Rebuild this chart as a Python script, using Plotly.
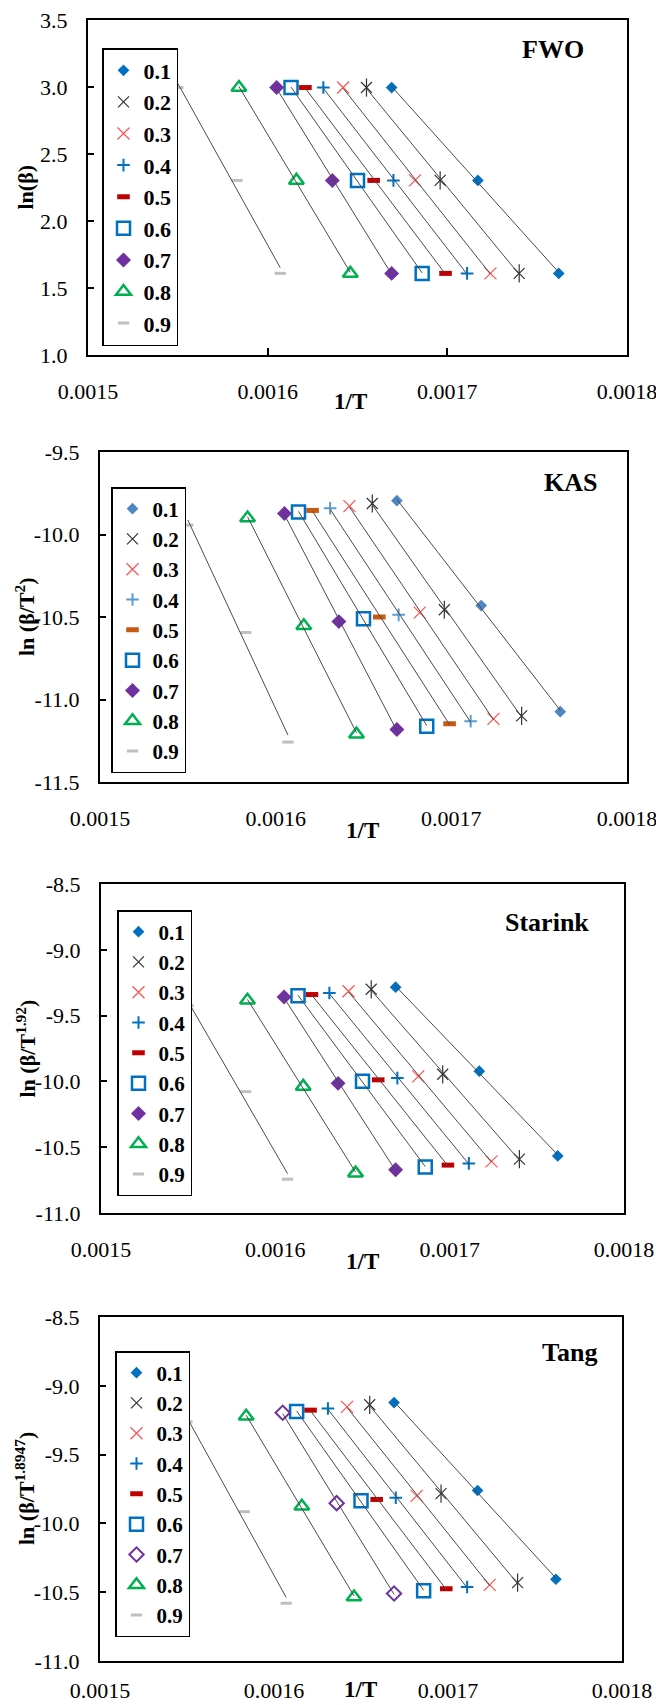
import numpy as np
import plotly.graph_objects as go

W, H = 656, 1705

alphas = ["0.1", "0.2", "0.3", "0.4", "0.5", "0.6", "0.7", "0.8", "0.9"]

# 1/T at heating rates 20, 10, 5 K/min for each conversion
inv_T = [
    [0.001669, 0.001717, 0.001762],
    [0.001655, 0.001696, 0.001740],
    [0.001642, 0.001682, 0.001724],
    [0.001631, 0.001670, 0.001711],
    [0.001621, 0.001659, 0.001699],
    [0.001613, 0.001650, 0.001686],
    [0.001605, 0.001636, 0.001669],
    [0.001584, 0.001616, 0.001646],
    [0.001550, 0.001583, 0.001607],
]

fwo_y = [
    [2.996, 2.303, 1.609],
    [2.996, 2.303, 1.609],
    [2.996, 2.303, 1.609],
    [2.996, 2.303, 1.609],
    [2.996, 2.303, 1.609],
    [2.996, 2.303, 1.609],
    [2.996, 2.303, 1.609],
    [2.996, 2.303, 1.609],
    [2.996, 2.303, 1.609],
]

kas_y = [
    [-9.795, -10.431, -11.074],
    [-9.812, -10.456, -11.099],
    [-9.828, -10.473, -11.117],
    [-9.841, -10.487, -11.132],
    [-9.854, -10.500, -11.147],
    [-9.863, -10.511, -11.162],
    [-9.873, -10.528, -11.182],
    [-9.900, -10.553, -11.210],
    [-9.943, -10.594, -11.258],
]

starink_y = [
    [-9.284, -9.922, -10.566],
    [-9.300, -9.946, -10.591],
    [-9.315, -9.962, -10.608],
    [-9.328, -9.975, -10.623],
    [-9.340, -9.988, -10.636],
    [-9.349, -9.998, -10.651],
    [-9.359, -10.015, -10.671],
    [-9.384, -10.038, -10.697],
    [-9.425, -10.078, -10.743],
]

tang_y = [
    [-9.122, -9.761, -10.406],
    [-9.138, -9.784, -10.430],
    [-9.153, -9.800, -10.447],
    [-9.165, -9.814, -10.462],
    [-9.177, -9.826, -10.475],
    [-9.186, -9.836, -10.489],
    [-9.196, -9.853, -10.509],
    [-9.221, -9.876, -10.535],
    [-9.262, -9.915, -10.580],
]

x_tick_vals = [0.0015, 0.0016, 0.0017, 0.0018]
x_tick_text = ["0.0015", "0.0016", "0.0017", "0.0018"]

y_tick_vals = [
    [1.0, 1.5, 2.0, 2.5, 3.0, 3.5],
    [-11.5, -11.0, -10.5, -10.0, -9.5],
    [-11.0, -10.5, -10.0, -9.5, -9.0, -8.5],
    [-11.0, -10.5, -10.0, -9.5, -9.0, -8.5],
]
y_tick_text = [
    ["1.0", "1.5", "2.0", "2.5", "3.0", "3.5"],
    ["-11.5", "-11.0", "-10.5", "-10.0", "-9.5"],
    ["-11.0", "-10.5", "-10.0", "-9.5", "-9.0", "-8.5"],
    ["-11.0", "-10.5", "-10.0", "-9.5", "-9.0", "-8.5"],
]

methods = ["FWO", "KAS", "Starink", "Tang"]
panel_y = [fwo_y, kas_y, starink_y, tang_y]
y_ranges = [[1.0, 3.5], [-11.5, -9.5], [-11.0, -8.5], [-11.0, -8.5]]
y_titles = ["ln(β)", "ln (β/T<sup>2</sup>)", "ln (β/T<sup>1.92</sup>)",
            "ln (β/T<sup>1.8947</sup>)"]
x_range = [0.0015, 0.0018]

# ---- layout geometry (pixels) ----
boxes = [  # left, right, top, bottom
    (88, 627, 20, 355),
    (100, 627, 452, 782),
    (101, 624, 884, 1213),
    (100, 622, 1317, 1661),
]
x_standoff = [16, 16, 16, 9]
legend_pos = [(102, 48), (111, 487), (117, 910), (115, 1351)]
label_pos = [(553, 50), (570, 483), (547, 922), (569, 1352)]
xtitle_pos = [(350, 401), (362, 831), (362, 1261), (360, 1689)]

FONT = "Liberation Serif"

base_colors = ["#0070C0", "#333333", "#FF5050", "#0070C0", "#C00000",
               "#0070C0", "#7030A0", "#00B050", "#BFBFBF"]


def marker_for(p, i):
    c = base_colors[i]
    if p == 1:
        c = {0: "#4F86C6", 3: "#5B9BD5", 4: "#C55A11"}.get(i, c)
    if i == 0:
        return dict(symbol="diamond", size=9, color=c, line=dict(width=0))
    if i == 1:
        return dict(symbol="x-thin-open", size=11, color=c, line=dict(color=c, width=1.2))
    if i == 2:
        return dict(symbol="x-thin-open", size=12, color=c, line=dict(color=c, width=1.2))
    if i == 3:
        return dict(symbol="cross-thin-open", size=9, color=c, line=dict(color=c, width=2))
    if i == 4:
        return dict(symbol="line-ew-open", size=9, color=c, line=dict(color=c, width=5))
    if i == 5:
        return dict(symbol="square-open", size=13, color=c, line=dict(color=c, width=2.5))
    if i == 6:
        if p == 3:
            return dict(symbol="diamond-open", size=11, color=c, line=dict(color=c, width=2))
        return dict(symbol="diamond", size=11.5, color=c, line=dict(width=0))
    if i == 7:
        return dict(symbol="triangle-up-open", size=13, color=c, line=dict(color=c, width=2.5))
    return dict(symbol="line-ew-open", size=8, color=c, line=dict(color=c, width=3))


fig = go.Figure()

for p in range(4):
    xa = "x" if p == 0 else f"x{p+1}"
    ya = "y" if p == 0 else f"y{p+1}"
    leg = "legend" if p == 0 else f"legend{p+1}"
    ys = panel_y[p]
    # markers
    for i, a in enumerate(alphas):
        fig.add_trace(go.Scatter(
            x=inv_T[i], y=ys[i], mode="markers", name=a,
            marker=marker_for(p, i), xaxis=xa, yaxis=ya, legend=leg,
            cliponaxis=False))
        if i == 1:
            c = marker_for(p, 1)["color"]
            fig.add_trace(go.Scatter(
                x=inv_T[i], y=ys[i], mode="markers", showlegend=False,
                marker=dict(symbol="line-ns-open", size=13, color=c,
                            line=dict(color=c, width=1.2)),
                xaxis=xa, yaxis=ya, hoverinfo="skip"))
    # linear fit lines
    for i, a in enumerate(alphas):
        xs = np.array(inv_T[i])
        yv = np.array(ys[i])
        k, b = np.polyfit(xs, yv, 1)
        xl = np.array([xs.min(), xs.max()])
        fig.add_trace(go.Scatter(
            x=xl, y=k * xl + b, mode="lines", showlegend=False,
            line=dict(color="#4a4a4a", width=1), xaxis=xa, yaxis=ya,
            hoverinfo="skip"))

layout = dict(
    width=W, height=H,
    margin=dict(l=0, r=0, t=0, b=0, autoexpand=False),
    paper_bgcolor="white", plot_bgcolor="white",
    font=dict(family=FONT, color="black", size=22),
    annotations=[],
)

for p in range(4):
    l, r, t, b = boxes[p]
    xdom = [l / W, r / W]
    ydom = [1 - b / H, 1 - t / H]
    xk = "xaxis" if p == 0 else f"xaxis{p+1}"
    yk = "yaxis" if p == 0 else f"yaxis{p+1}"
    ya = "y" if p == 0 else f"y{p+1}"
    xa = "x" if p == 0 else f"x{p+1}"
    layout[xk] = dict(
        domain=xdom, anchor=ya, range=x_range,
        tickmode="array", tickvals=x_tick_vals, ticktext=x_tick_text,
        showgrid=False, zeroline=False, automargin=False,
        showline=True, mirror=True, linecolor="black", linewidth=2,
        ticks="inside" if p == 0 else "", ticklen=7, tickwidth=1.5,
        tickcolor="black", tickfont=dict(size=22, family=FONT),
        ticklabelstandoff=x_standoff[p], ticklabeloverflow="allow",
    )
    layout[yk] = dict(
        domain=ydom, anchor=xa, range=y_ranges[p],
        tickmode="array", tickvals=y_tick_vals[p], ticktext=y_tick_text[p],
        showgrid=False, zeroline=False, automargin=False,
        showline=True, mirror=True, linecolor="black", linewidth=2,
        ticks="inside", ticklen=6, tickwidth=1.5, tickcolor="black",
        tickfont=dict(size=22, family=FONT), ticklabelstandoff=14,
        ticklabeloverflow="allow",
    )
    if p > 0:
        ok = f"xaxis{p+4}"
        layout[ok] = dict(
            overlaying=xa, side="top", anchor=ya, range=x_range,
            tickmode="array", tickvals=x_tick_vals, showticklabels=False,
            showgrid=False, zeroline=False, showline=False, automargin=False,
            ticks="inside", ticklen=7, tickwidth=1.5, tickcolor="black",
        )
    lk = "legend" if p == 0 else f"legend{p+1}"
    lx, ly = legend_pos[p]
    layout[lk] = dict(
        x=lx / W, y=1 - ly / H, xanchor="left", yanchor="top",
        xref="paper", yref="paper",
        bgcolor="white", bordercolor="black", borderwidth=1.5,
        font=dict(family=FONT, size=22 if p == 0 else 21, weight="bold"),
        itemwidth=30, tracegroupgap=0,
    )
    # method label
    mx, my = label_pos[p]
    layout["annotations"].append(dict(
        text=f"<b>{methods[p]}</b>", x=mx / W, y=1 - my / H,
        xref="paper", yref="paper", showarrow=False,
        xanchor="center", yanchor="middle",
        font=dict(family=FONT, size=26)))
    # x title
    tx, ty = xtitle_pos[p]
    layout["annotations"].append(dict(
        text="<b>1/T</b>", x=tx / W, y=1 - ty / H,
        xref="paper", yref="paper", showarrow=False,
        xanchor="center", yanchor="middle",
        font=dict(family=FONT, size=23)))
    # y title
    layout["annotations"].append(dict(
        text=f"<b>{y_titles[p]}</b>", x=25 / W, y=1 - ((t + b) / 2) / H,
        xref="paper", yref="paper", showarrow=False, textangle=-90,
        xanchor="center", yanchor="middle",
        font=dict(family=FONT, size=22)))

fig.update_layout(**layout)
fig.write_html("out.html")
